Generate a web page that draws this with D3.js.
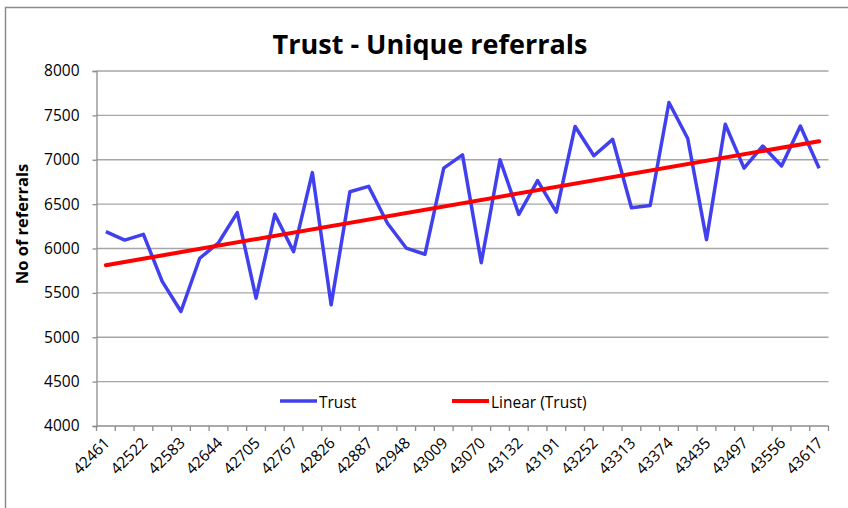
<!DOCTYPE html>
<html>
<head>
<meta charset="utf-8">
<script src="https://cdn.jsdelivr.net/npm/d3@7"></script>
<style>
  body { margin: 0; background: #fff; }
  text { font-family: "Open Sans", "Liberation Sans", sans-serif; fill: #000; }
</style>
</head>
<body>
<div id="chart"></div>
<script>
// chart size
var svgWidth = 848;
var svgHeight = 508;

var margin = { top: 71, right: 20, bottom: 82, left: 96.5 };
var plotRight = 828.5;

// month categories (Excel date serials, Apr 2016 - Jun 2019)
var months = ["42461","42491","42522","42552","42583","42614","42644","42675","42705","42736",
  "42767","42795","42826","42856","42887","42917","42948","42979","43009","43040",
  "43070","43101","43132","43160","43191","43221","43252","43282","43313","43344",
  "43374","43405","43435","43466","43497","43525","43556","43586","43617"];

// unique referrals per month
var trust = [6190, 6095, 6160, 5630, 5290, 5890, 6065, 6405, 5440, 6385,
  5965, 6855, 5365, 6640, 6700, 6285, 6005, 5935, 6905, 7055,
  5840, 7000, 6385, 6765, 6410, 7375, 7045, 7230, 6460, 6485,
  7645, 7240, 6100, 7400, 6905, 7155, 6930, 7380, 6905];

var yTicks = [4000, 4500, 5000, 5500, 6000, 6500, 7000, 7500, 8000];

var svg = d3.select("#chart")
  .append("svg")
  .attr("width", svgWidth)
  .attr("height", svgHeight);

// outer chart frame (cropped at right/bottom)
svg.append("path")
  .attr("d", "M5.5,508 V7.5 H848")
  .attr("fill", "none")
  .attr("stroke", "#8c8c8c")
  .attr("stroke-width", 1.5);

var x = d3.scaleBand()
  .domain(months)
  .range([margin.left, plotRight])
  .padding(0);

var y = d3.scaleLinear()
  .domain([4000, 8000])
  .range([426, 71]);

var cx = d => x(d) + x.bandwidth() / 2;

// gridlines
svg.append("g")
  .selectAll("line")
  .data(yTicks.slice(1))
  .join("line")
  .attr("x1", margin.left)
  .attr("x2", plotRight)
  .attr("y1", d => y(d))
  .attr("y2", d => y(d))
  .attr("stroke", "#a6a6a6")
  .attr("stroke-width", 1.3);

// y axis
var leftAxis = d3.axisLeft(y)
  .tickValues(yTicks)
  .tickFormat(d3.format("d"))
  .tickSize(4)
  .tickPadding(13);
var yAxis = svg.append("g")
  .attr("transform", `translate(${margin.left}, 0)`)
  .call(leftAxis);
yAxis.select(".domain").attr("stroke", "#8c8c8c").attr("stroke-width", 1.3);
yAxis.selectAll(".tick line").attr("stroke", "#8c8c8c").attr("stroke-width", 1.3);
yAxis.selectAll(".tick text")
  .style("font-size", "15.5px")
  .attr("fill", "#000");

// x axis: ticks at category boundaries
var edges = months.map(d => x(d)).concat([plotRight]);
svg.append("line")
  .attr("x1", margin.left).attr("x2", plotRight)
  .attr("y1", y(4000)).attr("y2", y(4000))
  .attr("stroke", "#8c8c8c").attr("stroke-width", 1.3);
svg.append("g")
  .selectAll("line")
  .data(edges)
  .join("line")
  .attr("x1", d => d).attr("x2", d => d)
  .attr("y1", y(4000)).attr("y2", y(4000) + 5)
  .attr("stroke", "#8c8c8c").attr("stroke-width", 1.3);

// x labels, every other month, rotated
svg.append("g")
  .selectAll("text")
  .data(months.filter((d, i) => i % 2 === 0))
  .join("text")
  .attr("transform", d => `translate(${cx(d) + 5}, ${y(4000) + 18}) rotate(-45)`)
  .attr("text-anchor", "end")
  .style("font-size", "15.5px")
  .text(d => d);

// linear trend (least squares fit of the series)
var n = trust.length;
var xs = d3.range(n);
var mx = d3.mean(xs), my = d3.mean(trust);
var slope = d3.sum(xs, i => (i - mx) * (trust[i] - my)) / d3.sum(xs, i => (i - mx) * (i - mx));
var icpt = my - slope * mx;

var line = d3.line()
  .x((d, i) => cx(months[i]))
  .y(d => y(d));

svg.append("path")
  .datum(trust)
  .attr("d", line)
  .attr("fill", "none")
  .attr("stroke", "#4040ee")
  .attr("stroke-width", 3.5)
  .attr("stroke-linejoin", "round");

svg.append("line")
  .attr("x1", cx(months[0]))
  .attr("y1", y(icpt))
  .attr("x2", cx(months[n - 1]))
  .attr("y2", y(icpt + slope * (n - 1)))
  .attr("stroke", "#ff0000")
  .attr("stroke-width", 4)
  .attr("stroke-linecap", "round");

// legend
var legend = svg.append("g");
legend.append("line")
  .attr("x1", 280).attr("x2", 317).attr("y1", 401).attr("y2", 401)
  .attr("stroke", "#4040ee").attr("stroke-width", 3.5);
legend.append("text")
  .attr("x", 319).attr("y", 407.5)
  .style("font-size", "15.5px")
  .text("Trust");
legend.append("line")
  .attr("x1", 452).attr("x2", 489).attr("y1", 401).attr("y2", 401)
  .attr("stroke", "#ff0000").attr("stroke-width", 4);
legend.append("text")
  .attr("x", 491).attr("y", 407.5)
  .style("font-size", "15.5px")
  .text("Linear (Trust)");

// title
svg.append("text")
  .attr("x", 430)
  .attr("y", 54)
  .attr("text-anchor", "middle")
  .style("font-size", "27px")
  .style("font-weight", "bold")
  .text("Trust - Unique referrals");

// y axis title
svg.append("text")
  .attr("transform", "translate(28, 224) rotate(-90)")
  .attr("text-anchor", "middle")
  .style("font-size", "16.5px")
  .style("font-weight", "bold")
  .text("No of referrals");
</script>
</body>
</html>
